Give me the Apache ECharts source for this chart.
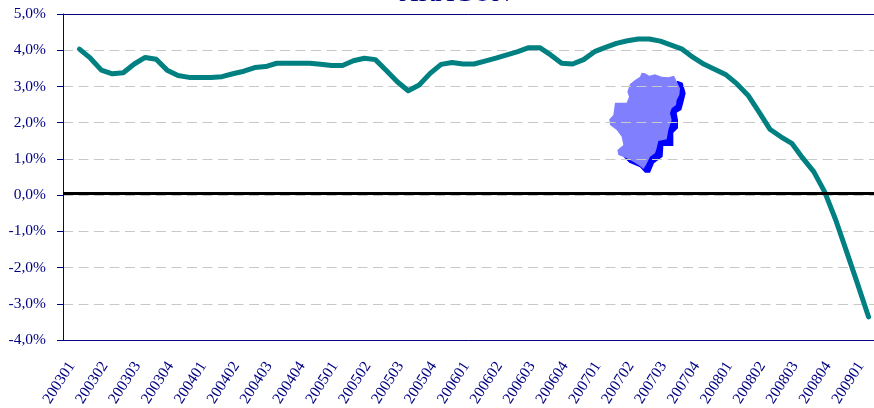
<!DOCTYPE html>
<html><head><meta charset="utf-8">
<style>html,body{margin:0;padding:0;background:#fff}#c{width:874px;height:408px}</style>
<script src="https://cdn.jsdelivr.net/npm/echarts@6/dist/echarts.min.js"></script>
</head><body><div id="c"></div>
<script>
const titleText = 'ARAGÓN';
const quarterLabels = ['200301','200302','200303','200304','200401','200402','200403','200404','200501','200502','200503','200504','200601','200602','200603','200604','200701','200702','200703','200704','200801','200802','200803','200804','200901'];
const values = [null,4.03,3.78,3.45,3.35,3.38,3.62,3.8,3.75,3.45,3.3,3.25,3.25,3.25,3.27,3.35,3.42,3.52,3.55,3.64,3.64,3.64,3.64,3.61,3.58,3.58,3.71,3.78,3.74,3.44,3.13,2.88,3.04,3.36,3.61,3.66,3.62,3.62,3.7,3.78,3.87,3.96,4.07,4.07,3.87,3.64,3.62,3.74,3.96,4.08,4.19,4.26,4.31,4.31,4.25,4.14,4.03,3.8,3.61,3.47,3.32,3.07,2.76,2.3,1.82,1.61,1.43,1.02,0.65,0.09,-0.68,-1.56,-2.45,-3.36];
const zeroLineValue = 0.05;
const categories = values.map((v,i)=> i%3===0 ? quarterLabels[i/3] : '');
const navy = '#000080';
const font = '"Liberation Serif","Times New Roman",serif';
const mapShadow = [[262,62],[278,68],[287,100],[280,128],[274,150],[260,158],[264,180],[264,205],[250,218],[250,258],[220,258],[218,290],[192,310],[180,338],[165,338],[150,322],[118,308],[100,290],[140,200]];
const mapFill = [[155,38],[165,40],[178,47],[195,43],[215,50],[235,52],[252,47],[262,68],[270,85],[268,105],[260,120],[258,135],[245,145],[240,160],[245,180],[240,195],[235,210],[230,238],[205,243],[200,265],[195,280],[180,290],[168,315],[160,327],[150,318],[130,305],[110,295],[85,285],[82,270],[100,255],[95,230],[80,210],[60,195],[58,178],[70,165],[75,128],[110,128],[117,110],[112,95],[120,72],[135,60],[150,50]];
const chart = echarts.init(document.getElementById('c'),null,{renderer:'canvas'});
chart.setOption({
  animation:false,
  textStyle:{fontFamily:font},
  title:{text:titleText,left:450,top:-24,textAlign:'center',textStyle:{color:navy,fontFamily:font,fontWeight:'normal',fontSize:26}},
  grid:{left:63,right:0,top:14,bottom:68,outerBoundsMode:'none'},
  xAxis:{type:'category',data:categories,boundaryGap:true,
    axisLine:{onZero:false,lineStyle:{color:navy,width:1}},
    axisTick:{length:6,interval:i=>i%12===0,lineStyle:{color:navy}},
    axisLabel:{interval:2,rotate:57,margin:21,color:navy,fontSize:15.5,fontFamily:font,verticalAlign:'top',lineHeight:8},
    splitLine:{show:false}},
  yAxis:{type:'value',min:-4,max:5,interval:1,
    axisLine:{show:true,onZero:false,lineStyle:{color:navy,width:1}},
    axisTick:{show:true,length:6,lineStyle:{color:navy}},
    axisLabel:{margin:17,color:navy,fontSize:15.5,fontFamily:font,formatter:v=>v.toFixed(1).replace('.',',')+'%'},
    splitLine:{show:true,lineStyle:{color:'#c8c8c8',type:[10,5.5],width:1}}},
  series:[{type:'line',data:values,smooth:false,showSymbol:false,connectNulls:false,z:3,
    lineStyle:{color:'#008080',width:5,cap:'round',join:'round'},
    markLine:{silent:true,symbol:'none',label:{show:false},animation:false,data:[
      {yAxis:zeroLineValue,lineStyle:{color:'#000',width:3,type:'solid'}},
      {yAxis:5,lineStyle:{color:navy,width:1,type:'solid'}}]}}],
  graphic:[{type:'group',x:590,y:60,scaleX:1/3,scaleY:1/3,z:10,children:[
    {type:'polygon',shape:{points:mapShadow},style:{fill:'#0000ff'}},
    {type:'polygon',shape:{points:mapFill},style:{fill:'#8080ff'}}]}]
});
</script></body></html>
